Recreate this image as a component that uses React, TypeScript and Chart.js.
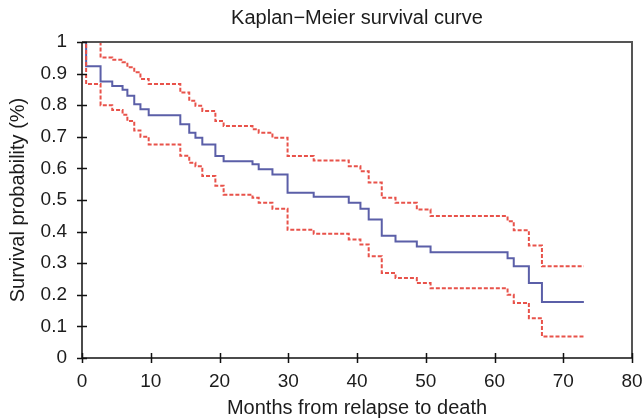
import React, { useEffect, useRef } from "react";
import { Chart, registerables } from "chart.js";

Chart.register(...registerables);

// Event times (months) and Kaplan–Meier estimates with 95% CI bounds
const eventTimes = [0, 0.6, 2.7, 4.4, 5.9, 6.6, 7.6, 8.5, 9.7, 14.3, 15.6, 16.5, 17.5, 19.4, 20.6, 24.8, 25.7, 27.7, 29.9, 33.7, 38.8, 40.5, 41.7, 43.6, 45.6, 48.7, 50.7, 61.9, 62.8, 65.0, 66.9, 73.0];
const survival = [1, 0.923, 0.875, 0.861, 0.849, 0.83, 0.803, 0.787, 0.768, 0.74, 0.713, 0.697, 0.676, 0.639, 0.623, 0.613, 0.597, 0.581, 0.523, 0.51, 0.491, 0.472, 0.438, 0.387, 0.369, 0.353, 0.335, 0.316, 0.29, 0.237, 0.177, 0.177];
const upperCI = [1, 1, 0.951, 0.944, 0.936, 0.92, 0.904, 0.883, 0.867, 0.84, 0.814, 0.798, 0.782, 0.75, 0.734, 0.724, 0.713, 0.697, 0.639, 0.625, 0.607, 0.591, 0.555, 0.507, 0.491, 0.47, 0.449, 0.433, 0.404, 0.356, 0.29, 0.29];
const lowerCI = [1, 0.867, 0.8, 0.785, 0.77, 0.75, 0.72, 0.7, 0.676, 0.64, 0.618, 0.607, 0.576, 0.545, 0.517, 0.507, 0.491, 0.472, 0.406, 0.393, 0.375, 0.359, 0.322, 0.269, 0.253, 0.237, 0.221, 0.2, 0.174, 0.126, 0.068, 0.068];

const xTickLabels = ["0", "10", "20", "30", "40", "50", "60", "70", "80"];
const yTickLabels = ["0", "0.1", "0.2", "0.3", "0.4", "0.5", "0.6", "0.7", "0.8", "0.9", "1"];

const FONT = "'Liberation Sans', Arial, Helvetica, sans-serif";
const TEXT = "#1c1c1c";
const RED = "#e8524a";
const BLUE = "#5b5fa8";

const framePlugin = {
  id: "frame",
  afterDatasetsDraw(chart: any) {
    const { ctx, chartArea, scales } = chart;
    const { left, right, top, bottom } = chartArea;
    ctx.save();
    ctx.strokeStyle = "#555555";
    ctx.lineWidth = 2;
    ctx.beginPath();
    ctx.moveTo(left, top);
    ctx.lineTo(right, top);
    ctx.lineTo(right, bottom);
    ctx.stroke();
    ctx.strokeStyle = "#111111";
    ctx.lineWidth = 1.5;
    ctx.beginPath();
    ctx.moveTo(left, top);
    ctx.lineTo(left, bottom);
    ctx.lineTo(right, bottom);
    ctx.stroke();
    ctx.lineWidth = 1.5;
    ctx.beginPath();
    scales.x.ticks.forEach((t: any) => {
      const px = Math.round(scales.x.getPixelForValue(t.value)) + 0.5;
      ctx.moveTo(px, bottom - 5);
      ctx.lineTo(px, bottom + 5);
    });
    scales.y.ticks.forEach((t: any) => {
      const py = Math.round(scales.y.getPixelForValue(t.value)) + 0.5;
      ctx.moveTo(left - 5, py);
      ctx.lineTo(left + 5, py);
    });
    ctx.stroke();
    ctx.restore();
  },
};

export default function App() {
  const canvasRef = useRef<HTMLCanvasElement | null>(null);

  useEffect(() => {
    if (!canvasRef.current) return;
    const pts = (arr: number[]) => eventTimes.map((t, i) => ({ x: t, y: arr[i] }));
    const chart = new Chart(canvasRef.current, {
      type: "line",
      data: {
        datasets: [
          {
            label: "Lower 95% CI",
            data: pts(lowerCI),
            borderColor: RED,
            borderWidth: 2,
            borderDash: [4, 2],
            stepped: true,
            pointRadius: 0,
            fill: false,
            clip: 4,
          } as any,
          {
            label: "Upper 95% CI",
            data: pts(upperCI),
            borderColor: RED,
            borderWidth: 2,
            borderDash: [4, 2],
            stepped: true,
            pointRadius: 0,
            fill: false,
            clip: 4,
          } as any,
          {
            label: "Survival",
            data: pts(survival),
            borderColor: BLUE,
            borderWidth: 2,
            stepped: true,
            pointRadius: 0,
            fill: false,
            clip: 4,
          } as any,
        ],
      },
      options: {
        animation: false,
        responsive: false,
        events: [],
        layout: { padding: { left: 0, right: 0, top: 0, bottom: 0 } },
        plugins: {
          legend: { display: false },
          tooltip: { enabled: false },
          title: {
            display: true,
            fullSize: false,
            text: "Kaplan\u2212Meier survival curve",
            color: TEXT,
            font: { family: FONT, size: 20, weight: "normal", lineHeight: 1.2 },
            padding: { top: 6, bottom: 12 },
          },
        },
        scales: {
          x: {
            type: "linear",
            min: 0,
            max: 80,
            ticks: {
              stepSize: 10,
              color: TEXT,
              font: { family: FONT, size: 19 },
              padding: 12,
              maxRotation: 0,
              callback: (_v: any, i: number) => xTickLabels[i],
            },
            grid: { display: false, drawTicks: false },
            border: { display: false },
            title: {
              display: true,
              text: "Months from relapse to death",
              color: TEXT,
              font: { family: FONT, size: 20, lineHeight: 1 },
              padding: { top: 0, bottom: 0 },
            },
            afterFit: (s: any) => {
              s.height = 60;
              s.paddingRight = 11;
              s.paddingLeft = 0;
            },
          },
          y: {
            type: "linear",
            min: 0,
            max: 1,
            ticks: {
              stepSize: 0.1,
              color: TEXT,
              font: { family: FONT, size: 19 },
              padding: 15,
              callback: (_v: any, i: number) => yTickLabels[i],
            },
            grid: { display: false, drawTicks: false },
            border: { display: false },
            title: {
              display: true,
              text: "Survival probability (%)",
              color: TEXT,
              font: { family: FONT, size: 20, lineHeight: 1 },
              padding: { top: 8, bottom: 0 },
            },
            afterFit: (s: any) => {
              s.width = 82;
            },
          },
        },
      } as any,
      plugins: [framePlugin],
    });
    return () => chart.destroy();
  }, []);

  return (
    <div style={{ position: "absolute", left: 0, top: 0, width: 643, height: 418, background: "#fff" }}>
      <canvas ref={canvasRef} width={643} height={418} />
    </div>
  );
}
